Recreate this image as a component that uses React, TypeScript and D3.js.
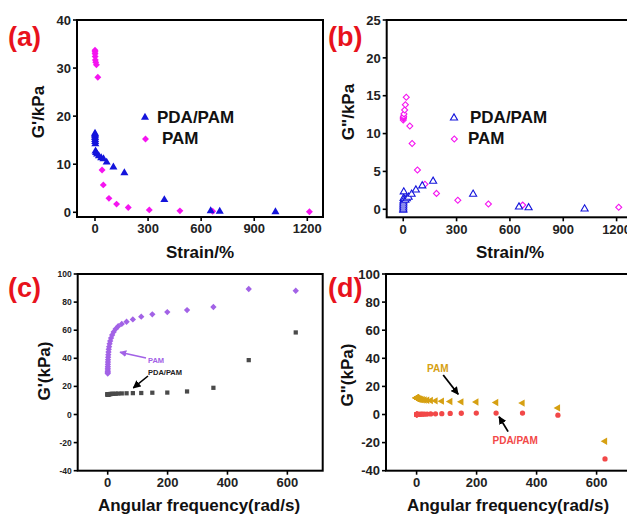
import React from 'react';
import * as d3 from 'd3';

// ---------- DATA ----------
// (a) G' vs strain
const strainA_PDA = [0.1, 0.2, 0.3, 0.5, 0.8, 1.2, 2, 3, 6, 12, 22, 35, 48, 66, 104, 166, 392, 654, 705, 1020];
const gA_PDA = [16.4, 16.2, 15.9, 15.5, 15.1, 14.7, 14.2, 12.7, 12.4, 12.1, 11.7, 11.3, 11.1, 10.4, 9.4, 8.2, 2.6, 0.3, 0.2, 0.1];
const strainA_PAM = [0.1, 0.3, 0.6, 1, 2, 4, 8, 16, 40, 47, 79, 122, 188, 307, 480, 665, 1212];
const gA_PAM = [33.7, 33.4, 33.0, 32.4, 31.7, 31.2, 30.7, 28.1, 8.8, 5.7, 2.9, 1.7, 1.0, 0.5, 0.3, 0.2, 0.1];

// (b) G'' vs strain
const strainB_PDA = [0.1, 0.2, 0.3, 0.5, 0.8, 1.2, 2, 3, 6, 12, 20, 30, 47, 71, 107, 168, 393, 651, 705, 1020];
const gB_PDA = [-0.1, 0.04, 0.3, 0.57, 0.83, 1.1, 1.45, 2.3, 1.3, 1.2, 1.4, 1.6, 2.0, 2.55, 3.1, 3.7, 2.0, 0.3, 0.2, 0.05];
const strainB_PAM = [0.1, 0.3, 0.6, 1, 2, 4, 8, 12, 17, 37, 50, 80, 122, 187, 307, 479, 672, 1212];
const gB_PAM = [11.8, 12.0, 12.1, 12.2, 12.3, 12.6, 13.1, 13.8, 14.8, 11.0, 8.7, 5.2, 3.3, 2.1, 1.2, 0.7, 0.55, 0.26];

// (c),(d) frequency sweep
const freq = [628, 471, 353, 265, 199, 149, 112, 84, 63, 47, 35, 26.5, 19.9, 14.9, 11.2, 8.4, 6.3, 4.7, 3.5, 2.65, 2.0, 1.5, 1.12, 0.84, 0.63, 0.47, 0.35, 0.27, 0.2, 0.15, 0.11];
const gC_PAM = [88.1, 89.3, 76.5, 74.3, 72.9, 71.3, 69.6, 67.7, 66.0, 64.5, 62.8, 60.9, 58.8, 56.6, 54.4, 52.3, 50.3, 48.3, 46.4, 44.5, 42.6, 40.8, 39.0, 37.3, 35.7, 34.2, 32.9, 31.7, 30.6, 29.8, 29.2];
const gC_PDA = [58.4, 38.7, 19.0, 16.4, 15.6, 15.5, 15.3, 15.2, 15.1, 15.0, 14.9, 14.8, 14.7, 14.7, 14.6, 14.6, 14.5, 14.5, 14.5, 14.4, 14.4, 14.4, 14.4, 14.3, 14.3, 14.3, 14.3, 14.3, 14.3, 14.3, 14.3];
const gD_PAM = [-19, 4.7, 8.1, 8.5, 8.9, 9.0, 9.3, 9.5, 9.7, 9.9, 10.1, 10.3, 10.5, 10.7, 10.9, 11.0, 11.1, 11.2, 11.3, 11.4, 11.5, 11.6, 11.6, 11.7, 11.7, 11.8, 11.8, 11.8, 11.9, 11.9, 11.9];
const gD_PDA = [-31.6, -0.5, 1.0, 1.0, 1.0, 0.9, 0.8, 0.6, 0.5, 0.4, 0.3, 0.25, 0.2, 0.2, 0.15, 0.1, 0.1, 0.1, 0.05, 0.05, 0, 0, 0, 0, 0, 0, 0, 0, 0, 0, 0];

// ticks
const strainTicks = [0, 300, 600, 900, 1200];
const freqTicks = [0, 200, 400, 600];
const yTicksA = [0, 10, 20, 30, 40];
const yTicksB = [0, 5, 10, 15, 20, 25];
const yTicksCD = [-40, -20, 0, 20, 40, 60, 80, 100];

// ---------- STYLE ----------
const FONT = "'Liberation Sans', Arial, Helvetica, sans-serif";
const BLUE = '#1414dc';
const MAGENTA = '#f514f0';
const PURPLE = '#a262e6';
const GRAY = '#4a4a4a';
const GOLD = '#d6a012';
const RED = '#f24848';
const LABEL_RED = '#e8121c';

type Sc = d3.ScaleLinear<number, number>;

interface PanelProps {
  left: number; right: number; top: number; bottom: number;
  xDomain: [number, number]; yDomain: [number, number];
  xTicks: number[]; yTicks: number[];
  xTickFont: number; yTickFont: number;
  xTitle: string; yTitle: string;
  xTitlePos: [number, number]; yTitlePos: [number, number];
  label: string; labelPos: [number, number];
  children: (x: Sc, y: Sc) => React.ReactNode;
}

function Panel(p: PanelProps) {
  const x = d3.scaleLinear().domain(p.xDomain).range([p.left, p.right]);
  const y = d3.scaleLinear().domain(p.yDomain).range([p.bottom, p.top]);
  const tl = 4;
  return (
    <g>
      {p.children(x, y)}
      <rect x={p.left} y={p.top} width={p.right - p.left} height={p.bottom - p.top}
        fill="none" stroke="#000" strokeWidth={2} />
      {p.xTicks.map(t => (
        <g key={'x' + t}>
          <line x1={x(t)} x2={x(t)} y1={p.bottom} y2={p.bottom + tl} stroke="#000" strokeWidth={1.6} />
          <text x={x(t)} y={p.bottom + tl + 3 + p.xTickFont * 0.72} textAnchor="middle"
            fontFamily={FONT} fontWeight="bold" fontSize={p.xTickFont} fill="#222">{t}</text>
        </g>
      ))}
      {p.yTicks.map(t => (
        <g key={'y' + t}>
          <line x1={p.left - tl} x2={p.left} y1={y(t)} y2={y(t)} stroke="#000" strokeWidth={1.6} />
          <text x={p.left - tl - 2} y={y(t) + p.yTickFont * 0.36} textAnchor="end"
            fontFamily={FONT} fontWeight="bold" fontSize={p.yTickFont} fill="#222">{t}</text>
        </g>
      ))}
      <text x={p.xTitlePos[0]} y={p.xTitlePos[1]} textAnchor="middle" fontFamily={FONT}
        fontWeight="bold" fontSize={17} fill="#111">{p.xTitle}</text>
      <text transform={`translate(${p.yTitlePos[0]},${p.yTitlePos[1]}) rotate(-90)`} textAnchor="middle"
        fontFamily={FONT} fontWeight="bold" fontSize={17} fill="#111">{p.yTitle}</text>
      <text x={p.labelPos[0]} y={p.labelPos[1]} fontFamily={FONT} fontWeight="bold" fontSize={27}
        fill={LABEL_RED}>{p.label}</text>
    </g>
  );
}

const triUp = (s: number) => d3.symbol(d3.symbolTriangle, s)() as string;
const sq = (s: number) => d3.symbol(d3.symbolSquare, s)() as string;
const circ = (s: number) => d3.symbol(d3.symbolCircle, s)() as string;

function Marks(props: { xs: number[]; ys: number[]; x: Sc; y: Sc; d: string; rot?: number; fill: string; stroke?: string; sw?: number }) {
  const { xs, ys, x, y, d, rot = 0, fill, stroke = 'none', sw = 0 } = props;
  return (
    <g>
      {xs.map((v, i) => (
        <path key={i} d={d} transform={`translate(${x(v)},${y(ys[i])}) rotate(${rot})`}
          fill={fill} stroke={stroke} strokeWidth={sw} />
      ))}
    </g>
  );
}

export default function App() {
  const legendFont = 17;
  return (
    <div style={{ position: 'absolute', left: 0, top: 0 }}>
      <svg width={627} height={515} style={{ display: 'block', background: '#fff' }}>
        <defs>
          <marker id="ahPurple" viewBox="0 0 10 10" refX="9" refY="5" markerWidth="7" markerHeight="7"
            markerUnits="userSpaceOnUse" orient="auto">
            <path d="M0,0 L10,5 L0,10 z" fill={PURPLE} />
          </marker>
          <marker id="ahBlack" viewBox="0 0 10 10" refX="9" refY="5" markerWidth="8" markerHeight="8"
            markerUnits="userSpaceOnUse" orient="auto">
            <path d="M0,0 L10,5 L0,10 z" fill="#000" />
          </marker>
        </defs>

        {/* (a) */}
        <Panel left={77} right={323} top={20} bottom={217} xDomain={[-101.7, 1288.7]} yDomain={[-0.98, 40]}
          xTicks={strainTicks} yTicks={yTicksA} xTickFont={13} yTickFont={13}
          xTitle="Strain/%" yTitle="G'/kPa" xTitlePos={[200, 258]} yTitlePos={[44, 112]}
          label="(a)" labelPos={[8, 46]}>
          {(x, y) => (
            <g>
              <Marks xs={strainA_PAM} ys={gA_PAM} x={x} y={y} d={sq(24)} rot={45} fill={MAGENTA} />
              <Marks xs={strainA_PDA} ys={gA_PDA} x={x} y={y} d={triUp(28)} fill={BLUE} />
              <path d={triUp(28)} transform="translate(145,117.5)" fill={BLUE} />
              <text x={157} y={122.5} fontFamily={FONT} fontWeight="bold" fontSize={legendFont} fill="#111">PDA/PAM</text>
              <path d={sq(24)} transform="translate(145.5,139) rotate(45)" fill={MAGENTA} />
              <text x={162} y={143.5} fontFamily={FONT} fontWeight="bold" fontSize={legendFont} fill="#111">PAM</text>
            </g>
          )}
        </Panel>

        {/* (b) */}
        <Panel left={386.7} right={632.6} top={20} bottom={217.3} xDomain={[-93, 1290]} yDomain={[-1.06, 25]}
          xTicks={strainTicks} yTicks={yTicksB} xTickFont={13} yTickFont={13}
          xTitle="Strain/%" yTitle={'G"/kPa'} xTitlePos={[510, 258]} yTitlePos={[354, 112]}
          label="(b)" labelPos={[328, 46]}>
          {(x, y) => (
            <g>
              <Marks xs={strainB_PAM} ys={gB_PAM} x={x} y={y} d={sq(18)} rot={45} fill="#fff" stroke={MAGENTA} sw={1.1} />
              <Marks xs={strainB_PDA} ys={gB_PDA} x={x} y={y} d={triUp(22)} fill="#fff" stroke={BLUE} sw={1.1} />
              <path d={triUp(22)} transform="translate(454,118)" fill="#fff" stroke={BLUE} strokeWidth={1.1} />
              <text x={470} y={122.5} fontFamily={FONT} fontWeight="bold" fontSize={legendFont} fill="#111">PDA/PAM</text>
              <path d={sq(18)} transform="translate(454.3,139) rotate(45)" fill="#fff" stroke={MAGENTA} strokeWidth={1.1} />
              <text x={468} y={143.5} fontFamily={FONT} fontWeight="bold" fontSize={legendFont} fill="#111">PAM</text>
            </g>
          )}
        </Panel>

        {/* (c) */}
        <Panel left={77.7} right={322.7} top={274} bottom={470.7} xDomain={[-100.2, 718]} yDomain={[-40, 100]}
          xTicks={freqTicks} yTicks={yTicksCD} xTickFont={13} yTickFont={8.5}
          xTitle="Angular frequency(rad/s)" yTitle="G'(kPa)" xTitlePos={[199, 511]} yTitlePos={[50, 371]}
          label="(c)" labelPos={[8, 297]}>
          {(x, y) => (
            <g>
              <Marks xs={freq} ys={gC_PDA} x={x} y={y} d={sq(18)} fill={GRAY} />
              <Marks xs={freq} ys={gC_PAM} x={x} y={y} d={sq(20)} rot={45} fill={PURPLE} />
              <line x1={x(128)} y1={y(40.2)} x2={x(41)} y2={y(44.3)} stroke={PURPLE} strokeWidth={1.6} markerEnd="url(#ahPurple)" />
              <text x={x(134.6)} y={y(38.8) + 2.7} fontFamily={FONT} fontWeight="bold" fontSize={7.5} fill={PURPLE}>PAM</text>
              <text x={x(134.6)} y={y(30) + 2.7} fontFamily={FONT} fontWeight="bold" fontSize={7.5} fill="#222">PDA/PAM</text>
              <line x1={x(134.6)} y1={y(27.4)} x2={x(85.5)} y2={y(18.9)} stroke="#000" strokeWidth={1.6} markerEnd="url(#ahBlack)" />
            </g>
          )}
        </Panel>

        {/* (d) */}
        <Panel left={386} right={632.6} top={274} bottom={470.7} xDomain={[-102, 720]} yDomain={[-40, 100]}
          xTicks={freqTicks} yTicks={yTicksCD} xTickFont={13} yTickFont={13}
          xTitle="Angular frequency(rad/s)" yTitle={'G"(kPa)'} xTitlePos={[508, 511]} yTitlePos={[353, 375]}
          label="(d)" labelPos={[328, 297]}>
          {(x, y) => (
            <g>
              <Marks xs={freq} ys={gD_PDA} x={x} y={y} d={circ(22)} fill={RED} />
              <Marks xs={freq} ys={gD_PAM} x={x} y={y} d={triUp(24)} rot={-90} fill={GOLD} />
              <text x={x(35)} y={y(32.9) + 3.6} fontFamily={FONT} fontWeight="bold" fontSize={10} fill={GOLD}>PAM</text>
              <line x1={x(88.7)} y1={y(28.1)} x2={x(138.7)} y2={y(14.4)} stroke="#000" strokeWidth={1.8} markerEnd="url(#ahBlack)" />
              <text x={x(253)} y={y(-18.1) + 3.6} fontFamily={FONT} fontWeight="bold" fontSize={10} fill={RED}>PDA/PAM</text>
              <line x1={x(305)} y1={y(-12.2)} x2={x(275)} y2={y(-1.6)} stroke="#000" strokeWidth={1.8} markerEnd="url(#ahBlack)" />
            </g>
          )}
        </Panel>
      </svg>
    </div>
  );
}
